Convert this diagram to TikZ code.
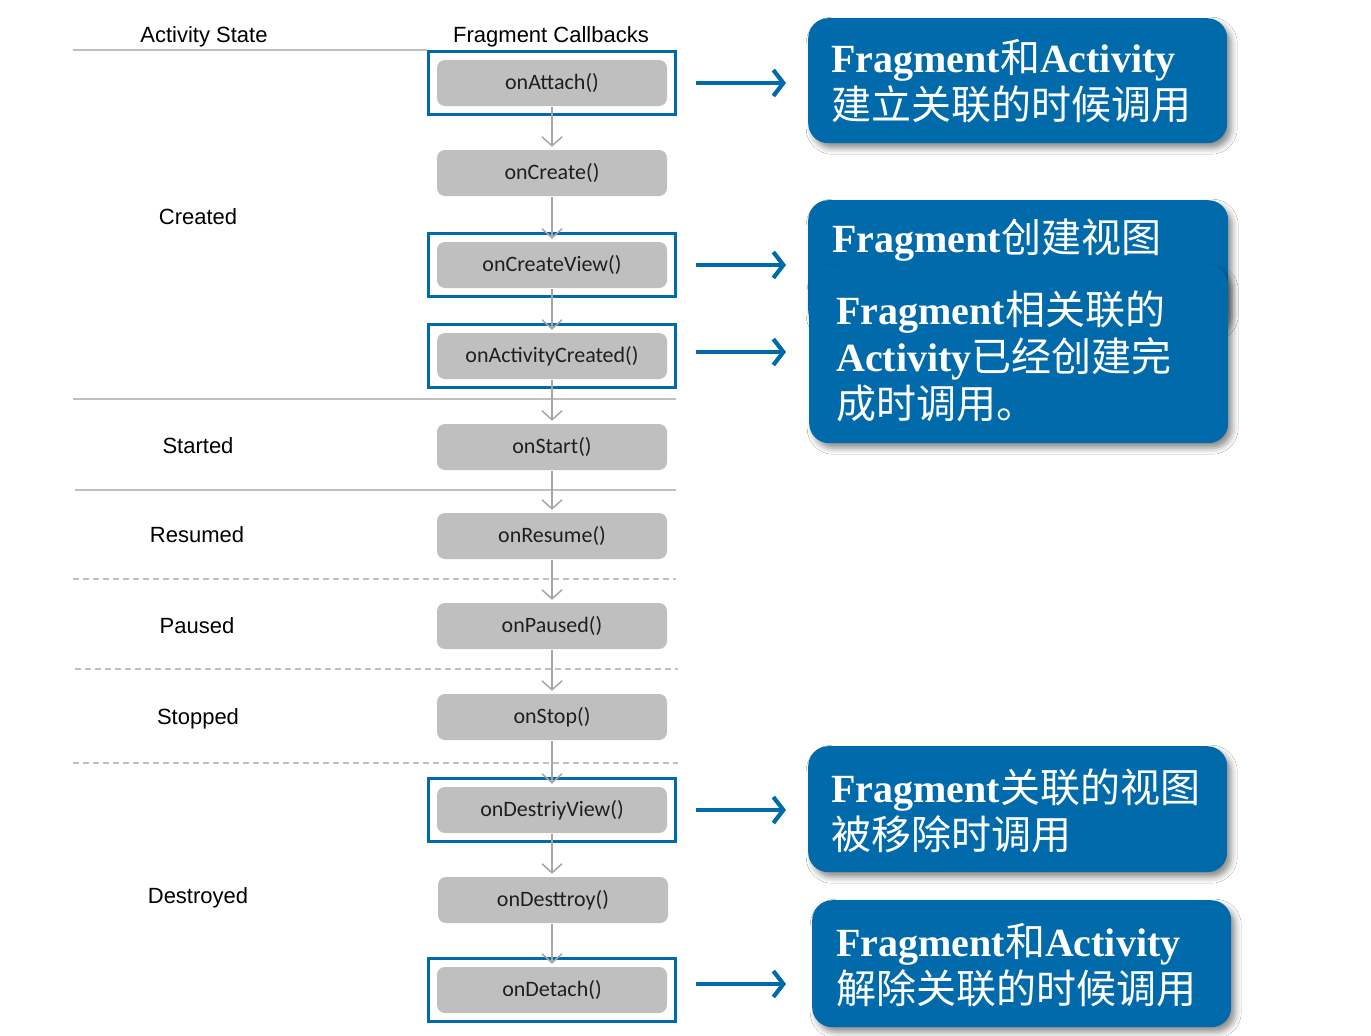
\documentclass[tikz,border=0pt]{standalone}
\usepackage{fontspec}
\setmainfont{Liberation Serif}
\newfontfamily\zhfont{Noto Sans CJK SC}
\newfontfamily\arialf{Liberation Sans}
\newfontfamily\calibf{Carlito}
\usetikzlibrary{arrows.meta,fit,shadows.blur,calc}
\definecolor{cblue}{RGB}{0,106,170}
\definecolor{boxgray}{RGB}{191,191,191}
\definecolor{linegray}{RGB}{191,191,191}
\definecolor{arrgray}{RGB}{166,166,166}
\newcommand{\zh}[1]{{\zhfont #1}}
\newcommand{\en}[1]{{\bfseries #1}}
\begin{document}
\begin{tikzpicture}[x=1pt,y=-1pt,
  cb/.style={fill=boxgray, rounded corners=8pt, minimum width=230pt, minimum height=46pt, inner sep=0pt, font=\calibf\fontsize{22}{26}\selectfont, text=black!88},
  outl/.style={draw=cblue, line width=2.6pt, inner sep=8.5pt},
  sepl/.style={draw=linegray, line width=1.4pt},
  dsep/.style={sepl, dash pattern=on 6pt off 4pt},
  flow/.style={draw=arrgray, line width=1.5pt, -{Straight Barb[length=9pt,width=20pt]}},
  barrow/.style={draw=cblue, line width=4.2pt, -{Straight Barb[length=10pt,width=26pt]}},
  callout/.style={fill=cblue, rounded corners=20pt, inner sep=0pt, anchor=north west,
     blur shadow={shadow xshift=4pt, shadow yshift=-5pt, shadow blur radius=6pt, shadow opacity=45}},
  ctext/.style={text=white, align=left, font=\fontsize{40}{47}\selectfont, inner sep=0pt, anchor=west},
  state/.style={font=\arialf\fontsize{22}{26}\selectfont, inner sep=0pt}
]
\useasboundingbox[fill=white] (0,0) rectangle (1371,1036);

% headers
\node[state] (hstate) at (204,37) {Activity State};
\node[state] (hcall) at (551,37) {Fragment Callbacks};

% separators
\draw[sepl] (73,50) -- (427,50);
\draw[sepl] (73,399) -- (676,399);
\draw[sepl] (75,490) -- (676,490);
\draw[dsep] (73,579) -- (676,579);
\draw[dsep] (75,669) -- (678,669);
\draw[dsep] (73,763) -- (678,763);

% state labels
\node[state] (screated) at (198,217) {Created};
\node[state] (sstarted) at (198,446) {Started};
\node[state] (sresumed) at (197,535) {Resumed};
\node[state] (spaused) at (197,626) {Paused};
\node[state] (sstopped) at (198,719) {Stopped};
\node[state] (sdestroyed) at (198,898) {Destroyed};

% callback boxes
\node[cb] (attach) at (552,83) {onAttach()};
\node[cb] (create) at (552,173) {onCreate()};
\node[cb] (cview) at (552,265) {onCreateView()};
\node[cb] (actc) at (552,356) {onActivityCreated()};
\node[cb] (start) at (552,447) {onStart()};
\node[cb] (resume) at (552,536) {onResume()};
\node[cb] (paused) at (552,626) {onPaused()};
\node[cb] (stop) at (552,717) {onStop()};
\node[cb] (dview) at (552,810) {onDestriyView()};
\node[cb] (destroy) at (553,900) {onDesttroy()};
\node[cb] (detach) at (552,990) {onDetach()};

% blue outlines
\node[outl, fit=(attach)] (o1) {};
\node[outl, fit=(cview)] (o2) {};
\node[outl, fit=(actc)] (o3) {};
\node[outl, fit=(dview)] (o4) {};
\node[outl, fit=(detach)] (o5) {};

% flow arrows
\foreach \a/\b in {attach/create, create/cview, cview/actc, actc/start, start/resume, resume/paused, paused/stop, stop/dview, dview/destroy, destroy/detach}
  \draw[flow] ([yshift=-1pt]\a.south -| attach.south) -- ([yshift=3pt]\b.north -| attach.north);

% callouts
\node[callout, minimum width=419pt, minimum height=125pt] (c1) at (808,18) {};
\node[callout, minimum width=420pt, minimum height=130pt] (c2) at (808,200) {};
\node[callout, minimum width=419pt, minimum height=178pt] (c3) at (809,265) {};
\node[callout, minimum width=419pt, minimum height=126pt] (c4) at (808,746) {};
\node[callout, minimum width=419pt, minimum height=127pt] (c5) at (812,900) {};

\node[ctext] (t1) at (831,81) {\en{Fragment}\zh{和}\en{Activity}\\\zh{建立关联的时候调用}};
\node[ctext] (t2) at (832,240) {\en{Fragment}\zh{创建视图}};
\node[ctext] (t3) at (836,356) {\en{Fragment}\zh{相关联的}\\\en{Activity}\zh{已经创建完}\\\zh{成时调用。}};
\node[ctext] (t4) at (831,811) {\en{Fragment}\zh{关联的视图}\\\zh{被移除时调用}};
\node[ctext] (t5) at (836,965) {\en{Fragment}\zh{和}\en{Activity}\\\zh{解除关联的时候调用}};

% blue arrows
\draw[barrow] ([xshift=19pt]o1.east) -- ([xshift=109pt]o1.east);
\draw[barrow] ([xshift=19pt]o2.east) -- ([xshift=109pt]o2.east);
\draw[barrow] ([xshift=19pt,yshift=4pt]o3.east) -- ([xshift=109pt,yshift=4pt]o3.east);
\draw[barrow] ([xshift=19pt]o4.east) -- ([xshift=109pt]o4.east);
\draw[barrow] ([xshift=19pt,yshift=6pt]o5.east) -- ([xshift=109pt,yshift=6pt]o5.east);
\end{tikzpicture}
\end{document}
